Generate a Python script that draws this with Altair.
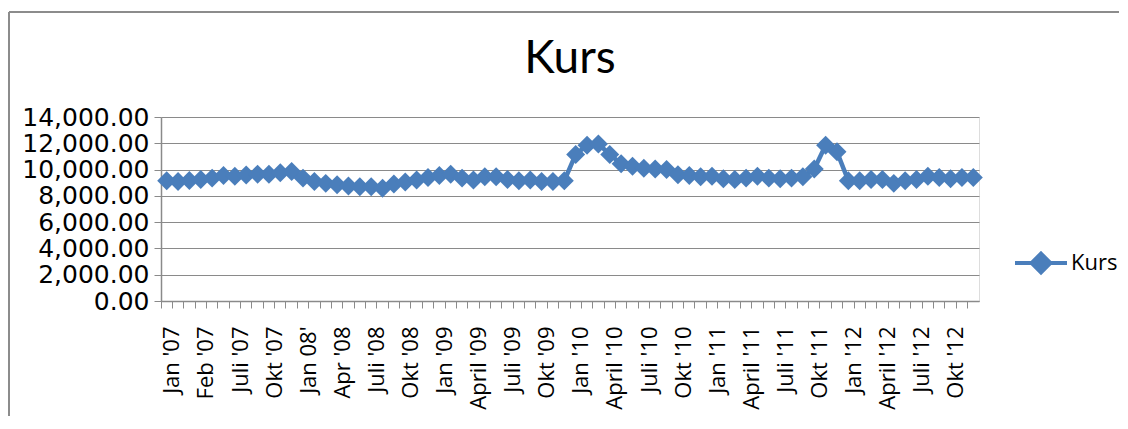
import json
import altair as alt
import pandas as pd

# Monthly rate values (Jan '07 .. Dec '12)
kurs = [
    9150, 9100, 9175, 9250, 9350, 9550, 9500, 9580, 9650, 9650, 9750, 9850,
    9350, 9100, 8950, 8850, 8750, 8700, 8700, 8580, 8900, 9050, 9200, 9400,
    9550, 9650, 9350, 9200, 9450, 9450, 9250, 9150, 9200, 9100, 9100, 9150,
    11150, 11850, 11950, 11150, 10450, 10250, 10100, 10050, 10000, 9600, 9550, 9450,
    9500, 9300, 9250, 9350, 9500, 9350, 9300, 9350, 9450, 10050, 11850, 11350,
    9150, 9150, 9250, 9250, 8950, 9150, 9250, 9500, 9400, 9300, 9400, 9400,
]

# Category labels shown on the axis (every third category)
tick_labels = [
    "Jan '07", "Feb '07", "Juli '07", "Okt '07",
    "Jan 08'", "Apr '08", "Juli '08", "Okt '08",
    "Jan '09", "April '09", "Juli '09", "Okt '09",
    "Jan '10", "April '10", "Juli '10", "Okt '10",
    "Jan '11", "April '11", "Juli '11", "Okt '11",
    "Jan '12", "April '12", "Juli '12", "Okt '12",
]

series_name = "Kurs"
y_ticks = [0, 2000, 4000, 6000, 8000, 10000, 12000, 14000]

df = pd.DataFrame({
    "idx": list(range(len(kurs))),
    "value": kurs,
    "series": [series_name] * len(kurs),
})

BLUE = "#4A7EBB"
GRID = "#8A8A8A"
XFONT = "Open Sans"
YFONT = "DejaVu Sans"
TFONT = "Lato"

W = 818
H = 184
band = W / len(kurs)

label_expr = (
    "datum.value % 3 == 0 ? " + json.dumps(tick_labels) + "[datum.value / 3] : ''"
)

x_enc = alt.X(
    "idx:O",
    scale=alt.Scale(type="band", paddingInner=0, paddingOuter=0),
    axis=alt.Axis(
        title=None,
        bandPosition=0,
        labelExpr=label_expr,
        labelOffset=band / 2,
        labelAngle=270,
        labelAlign="right",
        labelBaseline="middle",
        labelPadding=18,
        labelOverlap=False,
        labelFontSize=22,
        labelFont=XFONT,
        labelColor="#000000",
        tickSize=7,
        tickColor=GRID,
        domainColor=GRID,
        domainWidth=1.5,
        tickWidth=1,
        grid=False,
    ),
)

y_enc = alt.Y(
    "value:Q",
    scale=alt.Scale(domain=[0, 14000], nice=False),
    axis=alt.Axis(
        title=None,
        values=y_ticks,
        format=",.2f",
        labelFontSize=25,
        labelFont=YFONT,
        labelColor="#000000",
        labelPadding=5,
        tickSize=7,
        tickColor=GRID,
        domainColor=GRID,
        domainWidth=1.5,
        grid=True,
        gridColor=GRID,
        gridWidth=1.2,
    ),
)

legend_symbol = "M-1,0L1,0M0,-0.36L0.36,0L0,0.36L-0.36,0Z"

color_enc = alt.Color(
    "series:N",
    scale=alt.Scale(domain=[series_name], range=[BLUE]),
    legend=alt.Legend(
        title=None,
        orient="none",
        legendX=852,
        legendY=118,
        symbolType=legend_symbol,
        symbolSize=2704,
        symbolStrokeWidth=4,
        symbolFillColor=BLUE,
        symbolStrokeColor=BLUE,
        labelFontSize=22,
        labelFont=XFONT,
        labelColor="#000000",
        labelOffset=2,
        padding=0,
    ),
)

line = alt.Chart(df).mark_line(strokeWidth=4.5).encode(
    x=x_enc, y=y_enc, color=color_enc
)
points = alt.Chart(df).mark_point(
    shape="diamond", size=360, filled=True, opacity=1
).encode(x=x_enc, y=y_enc, color=color_enc)

# chart-area frame (top and left edges visible in the reference)
frame_df = pd.DataFrame({"a": [0]})
frame_top = alt.Chart(frame_df).mark_rule(color="#8C8C8C", strokeWidth=2).encode(
    x=alt.value(-152), x2=alt.value(960), y=alt.value(-105)
)
frame_left = alt.Chart(frame_df).mark_rule(color="#8C8C8C", strokeWidth=2).encode(
    x=alt.value(-152), y=alt.value(-105), y2=alt.value(320)
)

chart = (
    alt.layer(line, points, frame_top, frame_left)
    .properties(
        width=W,
        height=H,
        autosize=alt.AutoSizeParams(type="none"),
        padding={"left": 153, "top": 109, "right": 140, "bottom": 115},
        title=alt.TitleParams(
            text="Kurs",
            fontSize=46,
            font=TFONT,
            fontWeight="normal",
            color="#000000",
            anchor="middle",
            baseline="bottom",
            offset=0,
            dy=118,
        ),
    )
    .configure_view(stroke=None)
    .configure(background="white")
)

chart.save("out.html", embed_options={"renderer": "svg", "actions": False})
